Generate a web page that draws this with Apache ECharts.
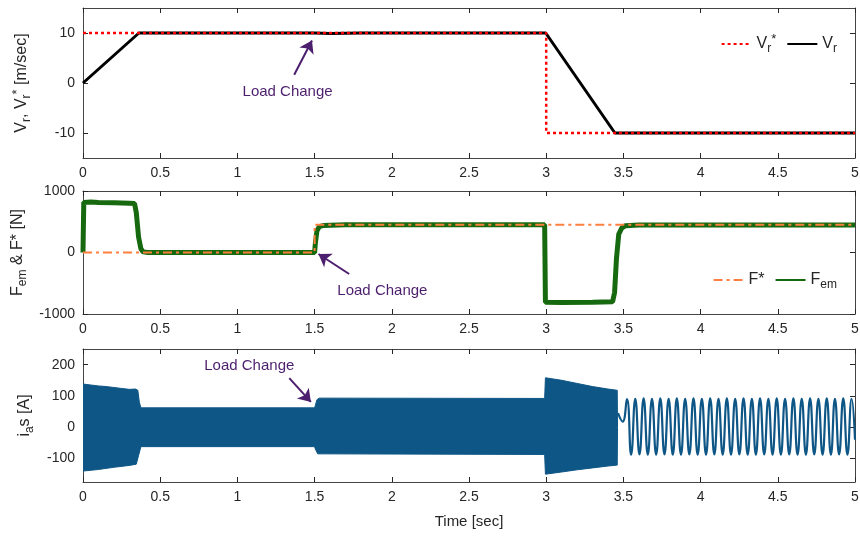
<!DOCTYPE html>
<html>
<head>
<meta charset="utf-8">
<script src="https://cdn.jsdelivr.net/npm/echarts@6/dist/echarts.min.js"></script>
<style>
  html, body { margin: 0; padding: 0; background: #fff; }
  #main { width: 860px; height: 541px; }
</style>
</head>
<body>
<div id="main"></div>
<script>
// ---- data ----
// panel 1 : speed [m/sec]
const vRef = [[0, 10], [3, 10], [3, -10], [5, -10]]
const vAct = [[0, 0], [0.362, 10], [1.5, 10], [1.51, 9.8], [1.6, 9.9], [1.8, 10], [2.997, 10], [3.445, -10], [5, -10]]

// panel 2 : force [N]
const fRef = [[0, 0], [1.5, 0], [1.5, 450], [5, 450]]
const fEm = [
  [0, 0], [0.005, 815], [0.05, 820], [0.1, 815], [0.2, 808], [0.3, 800], [0.334, 795],
  [0.345, 650], [0.36, 250], [0.375, 60], [0.39, 10], [0.42, 0], [1.5, 0],
  [1.505, 150], [1.515, 350], [1.53, 420], [1.56, 440], [1.7, 450], [2.99, 450],
  [2.995, -810], [3.1, -815], [3.3, -810], [3.43, -800], [3.443, -650], [3.455, -100],
  [3.47, 300], [3.49, 400], [3.513, 435], [3.6, 448], [5, 448]
]

// panel 3 : phase current [A] - envelope of the dense part, then the slow sine
const iUpper = [
  [0, 138], [0.05, 135], [0.1, 132], [0.15, 130], [0.2, 127], [0.25, 124], [0.3, 121],
  [0.34, 122], [0.355, 118], [0.365, 80], [0.375, 62], [1.5, 62], [1.505, 70],
  [1.515, 88], [1.53, 93], [2.99, 92], [2.995, 158], [3.1, 150], [3.2, 140],
  [3.3, 130], [3.4, 122], [3.46, 118], [3.462, 0]
]
const iLower = [
  [0, -140], [0.1, -135], [0.2, -128], [0.3, -122], [0.345, -118], [0.36, -90],
  [0.375, -62], [1.5, -62], [1.505, -70], [1.52, -85], [1.53, -87], [2.99, -87],
  [2.995, -150], [3.1, -143], [3.2, -136], [3.3, -130], [3.4, -124], [3.46, -121], [3.462, 0]
]
const iTail = [
  [3.465, 45], [3.495, 18], [3.523, 90], [3.55, -88], [3.577, 91], [3.604, -87],
  [3.631, 92], [3.658, -88], [3.685, 91], [3.712, -88], [3.739, 92], [3.766, -87],
  [3.793, 91], [3.82, -88], [3.846, 92], [3.873, -88], [3.9, 91], [3.927, -87],
  [3.954, 92], [3.981, -88], [4.008, 91], [4.035, -88], [4.062, 92], [4.089, -87],
  [4.116, 91], [4.143, -88], [4.17, 92], [4.197, -88], [4.224, 91], [4.251, -87],
  [4.278, 92], [4.305, -88], [4.332, 91], [4.358, -88], [4.385, 92], [4.412, -87],
  [4.439, 91], [4.466, -88], [4.493, 92], [4.52, -88], [4.547, 91], [4.574, -87],
  [4.601, 92], [4.628, -88], [4.655, 91], [4.682, -88], [4.709, 92], [4.736, -87],
  [4.763, 91], [4.79, -88], [4.817, 92], [4.844, -88], [4.87, 91], [4.897, -87],
  [4.924, 92], [4.951, -88], [4.978, 91], [5, -40]
]

const yTicks1 = [-10, 0, 10]
const yTicks3 = [-100, 0, 100, 200]

// ---- styling ----
const FONT = 'Liberation Sans, Arial, sans-serif'
const TXT = '#262626'
const PURPLE = '#4c1f6e'
const BLUE = '#0e5686'

const rich = {
  n: { fontSize: 16, fontFamily: FONT, color: TXT, lineHeight: 22 },
  s: { fontSize: 12, fontFamily: FONT, color: TXT, lineHeight: 10, verticalAlign: 'bottom' },
  p: { fontSize: 13, fontFamily: FONT, color: TXT, lineHeight: 12, verticalAlign: 'top' }
}

const grids = [
  { left: 83, right: 5, top: 8, height: 150, outerBoundsMode: 'none' },
  { left: 83, right: 5, top: 191, height: 123, outerBoundsMode: 'none' },
  { left: 83, right: 5, top: 349, height: 133, outerBoundsMode: 'none' }
]

const xPair = (gi, extra) => [
  Object.assign({
    gridIndex: gi, type: 'value', min: 0, max: 5, interval: 0.5, position: 'bottom',
    axisLine: { onZero: false, lineStyle: { color: '#444', width: 1 } },
    axisTick: { inside: true, length: 5, lineStyle: { color: TXT } },
    axisLabel: { fontSize: 14, fontFamily: FONT, color: TXT, margin: 8 },
    splitLine: { show: false }
  }, extra || {}),
  {
    gridIndex: gi, type: 'value', min: 0, max: 5, interval: 0.5, position: 'top',
    axisLine: { onZero: false, lineStyle: { color: '#444', width: 1 } },
    axisTick: { inside: true, length: 5, lineStyle: { color: TXT } },
    axisLabel: { show: false },
    splitLine: { show: false }
  }
]

const yPair = (gi, opts, name, gap, custom) => {
  const left = {
    gridIndex: gi, type: 'value', position: 'left', name: name, nameLocation: 'middle',
    nameGap: gap, nameTextStyle: { rich: rich },
    axisLine: { onZero: false, lineStyle: { color: '#444', width: 1 } },
    axisTick: { inside: true, length: 5, lineStyle: { color: TXT } },
    axisLabel: { fontSize: 14, fontFamily: FONT, color: TXT, margin: 8, formatter: (v) => String(v) },
    splitLine: { show: false }
  }
  const right = {
    gridIndex: gi, type: 'value', position: 'right',
    axisLine: { onZero: false, lineStyle: { color: '#444', width: 1 } },
    axisTick: { inside: true, length: 5, lineStyle: { color: TXT } },
    axisLabel: { show: false },
    splitLine: { show: false }
  }
  Object.assign(left, opts)
  Object.assign(right, opts)
  if (custom) {
    left.axisLabel.customValues = custom
    left.axisTick.customValues = custom
    right.axisTick.customValues = custom
  }
  return [left, right]
}

// arrow + caption in data coordinates of the panel
const loadChange = (textAt, from, to) => ({
  markLine: {
    silent: true, symbol: ['none', 'arrow'], symbolSize: 12,
    itemStyle: { color: PURPLE },
    lineStyle: { color: PURPLE, width: 2, type: 'solid' },
    label: { show: false },
    emphasis: { disabled: true },
    data: [[
      { coord: from, symbol: 'none' },
      { coord: to, symbol: 'arrow', symbolSize: 12, itemStyle: { color: PURPLE } }
    ]]
  },
  markPoint: {
    silent: true, symbol: 'circle', symbolSize: 0,
    label: { show: true, position: 'inside', formatter: 'Load Change', color: PURPLE, fontSize: 15, fontFamily: FONT },
    data: [{ coord: textAt }]
  }
})

const legendText = {
  'Vr*': '{n|V}{s|r}{p|*}',
  'Vr': '{n|V}{s|r}',
  'F*': '{n|F*}',
  'Fem': '{n|F}{s|em}'
}

const chart = echarts.init(document.getElementById('main'))

const option = {
  animation: false,
  backgroundColor: '#fff',
  grid: grids,
  legend: [
    {
      data: ['Vr*', 'Vr'], right: 18, top: 28, itemWidth: 30, itemHeight: 10, itemGap: 10,
      itemStyle: { opacity: 0 },
      formatter: (n) => legendText[n], textStyle: { rich: rich }
    },
    {
      data: ['F*', 'Fem'], right: 18, top: 267, itemWidth: 30, itemHeight: 10, itemGap: 10,
      itemStyle: { opacity: 0 },
      formatter: (n) => legendText[n], textStyle: { rich: rich }
    }
  ],
  xAxis: [].concat(
    xPair(0),
    xPair(1),
    xPair(2, { name: 'Time [sec]', nameLocation: 'middle', nameGap: 32, nameTextStyle: { fontSize: 15, fontFamily: FONT, color: TXT } })
  ),
  yAxis: [].concat(
    yPair(0, { min: -15, max: 15 }, '{n|V}{s|r}{n|, V}{s|r}{p|*}{n| [m/sec]}', 50, yTicks1),
    yPair(1, { min: -1000, max: 1000, interval: 1000 }, '{n|F}{s|em}{n| & F* [N]}', 50),
    yPair(2, { min: -175, max: 250 }, '{n|i}{s|a}{n|s [A]}', 36, yTicks3)
  ),
  series: [
    Object.assign({
      name: 'Vr', type: 'line', xAxisIndex: 0, yAxisIndex: 0, symbol: 'none',
      data: vAct, lineStyle: { color: '#000', width: 3 }, itemStyle: { color: '#000' }, z: 2
    }, loadChange([1.325, -1.7], [1.368, 1.66], [1.483, 8.5])),
    {
      name: 'Vr*', type: 'line', xAxisIndex: 0, yAxisIndex: 0, symbol: 'none',
      data: vRef, lineStyle: { color: '#ff0000', width: 2.5, type: [3, 3] }, itemStyle: { color: '#ff0000' }, z: 3
    },
    Object.assign({
      name: 'Fem', type: 'line', xAxisIndex: 2, yAxisIndex: 2, symbol: 'none',
      data: fEm, lineStyle: { color: '#17690f', width: 5 }, itemStyle: { color: '#17690f' }, z: 2
    }, loadChange([1.939, -621], [1.724, -350], [1.525, -24])),
    {
      name: 'F*', type: 'line', xAxisIndex: 2, yAxisIndex: 2, symbol: 'none',
      data: fRef, lineStyle: { color: '#ff7f3f', width: 2, type: [9, 4, 3, 4] }, itemStyle: { color: '#ff7f3f' }, z: 3
    },
    {
      name: 'ia+', type: 'line', xAxisIndex: 4, yAxisIndex: 4, symbol: 'none',
      data: iUpper, lineStyle: { color: BLUE, width: 1 }, areaStyle: { color: BLUE, opacity: 1, origin: -5 }
    },
    {
      name: 'ia-', type: 'line', xAxisIndex: 4, yAxisIndex: 4, symbol: 'none',
      data: iLower, lineStyle: { color: BLUE, width: 1 }, areaStyle: { color: BLUE, opacity: 1, origin: 5 }
    },
    Object.assign({
      name: 'ia', type: 'line', xAxisIndex: 4, yAxisIndex: 4, symbol: 'none', smooth: 0.5,
      data: iTail, lineStyle: { color: BLUE, width: 2.2 }
    }, loadChange([1.077, 196], [1.336, 157], [1.476, 81]))
  ]
}

option && chart.setOption(option)
</script>
</body>
</html>
